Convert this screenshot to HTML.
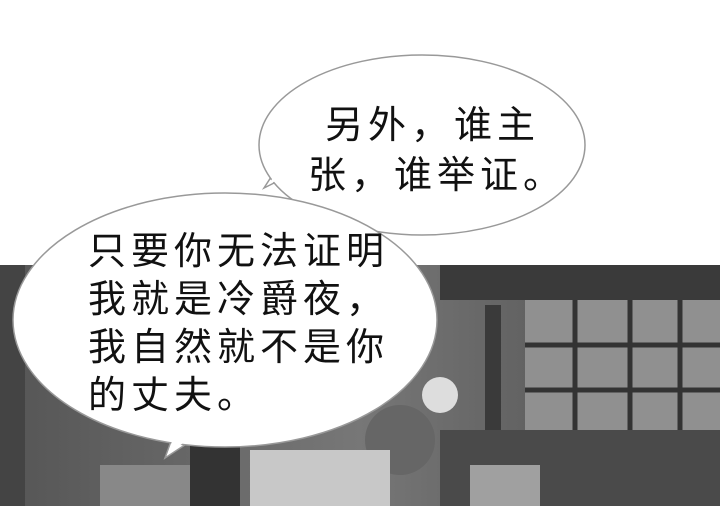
<!DOCTYPE html>
<html><head><meta charset="utf-8">
<style>
html,body{margin:0;padding:0;}
body{width:720px;height:506px;overflow:hidden;background:#fff;position:relative;font-family:"Liberation Sans","Noto Sans CJK SC",sans-serif;}
svg{position:absolute;left:0;top:0;}
.t{font-family:"Liberation Sans","Noto Sans CJK SC",sans-serif;font-size:38px;fill:#111;letter-spacing:5px;}
</style></head>
<body>
<svg width="720" height="506" viewBox="0 0 720 506">
  <defs>
    <linearGradient id="bg" x1="0" y1="0" x2="1" y2="0">
      <stop offset="0" stop-color="#555"/>
      <stop offset="0.5" stop-color="#777"/>
      <stop offset="1" stop-color="#4a4a4a"/>
    </linearGradient>
  </defs>
  <g>
    <rect x="0" y="265" width="720" height="241" fill="url(#bg)"/>
    <rect x="0" y="265" width="25" height="241" fill="#444"/>
    <rect x="440" y="265" width="280" height="35" fill="#3a3a3a"/>
    <rect x="525" y="300" width="195" height="130" fill="#909090"/>
    <g stroke="#333" stroke-width="5">
      <line x1="575" y1="300" x2="575" y2="430"/>
      <line x1="630" y1="300" x2="630" y2="430"/>
      <line x1="680" y1="300" x2="680" y2="430"/>
      <line x1="525" y1="345" x2="720" y2="345"/>
      <line x1="525" y1="390" x2="720" y2="390"/>
    </g>
    <rect x="485" y="305" width="16" height="140" fill="#3a3a3a"/>
    <rect x="440" y="430" width="280" height="76" fill="#4a4a4a"/>
    <rect x="190" y="440" width="50" height="66" fill="#333"/>
    <rect x="100" y="465" width="90" height="41" fill="#888"/>
    <circle cx="440" cy="395" r="18" fill="#ddd"/>
    <circle cx="400" cy="440" r="35" fill="#666"/>
    <rect x="250" y="450" width="140" height="56" fill="#c8c8c8"/>
    <rect x="470" y="465" width="70" height="41" fill="#a0a0a0"/>
  </g>
  <g>
    <path d="M290,175 L264,188 L282,160 Z" fill="#fff" stroke="#999" stroke-width="1.5"/>
    <ellipse cx="422" cy="145" rx="163" ry="90" fill="#fff" stroke="#999" stroke-width="1.5"/>
    <path d="M292,172 L268,185 L285,160" fill="#fff" stroke="none"/>
  </g>
  <g>
    <path d="M175,430 L165,458 L200,435 Z" fill="#fff" stroke="#999" stroke-width="1.5"/>
    <ellipse cx="225" cy="320" rx="212" ry="127" fill="#fff" stroke="#999" stroke-width="1.5"/>
    <path d="M177,428 L167,455 L198,432" fill="#fff" stroke="none"/>
  </g>
  <g>
    <text class="t" x="325" y="138">另外，谁主</text>
    <text class="t" x="308" y="188">张，谁举证。</text>
  </g>
  <g>
    <text class="t" x="88" y="264">只要你无法证明</text>
    <text class="t" x="88" y="312">我就是冷爵夜，</text>
    <text class="t" x="88" y="360">我自然就不是你</text>
    <text class="t" x="88" y="408">的丈夫。</text>
  </g>
</svg>
</body></html>
